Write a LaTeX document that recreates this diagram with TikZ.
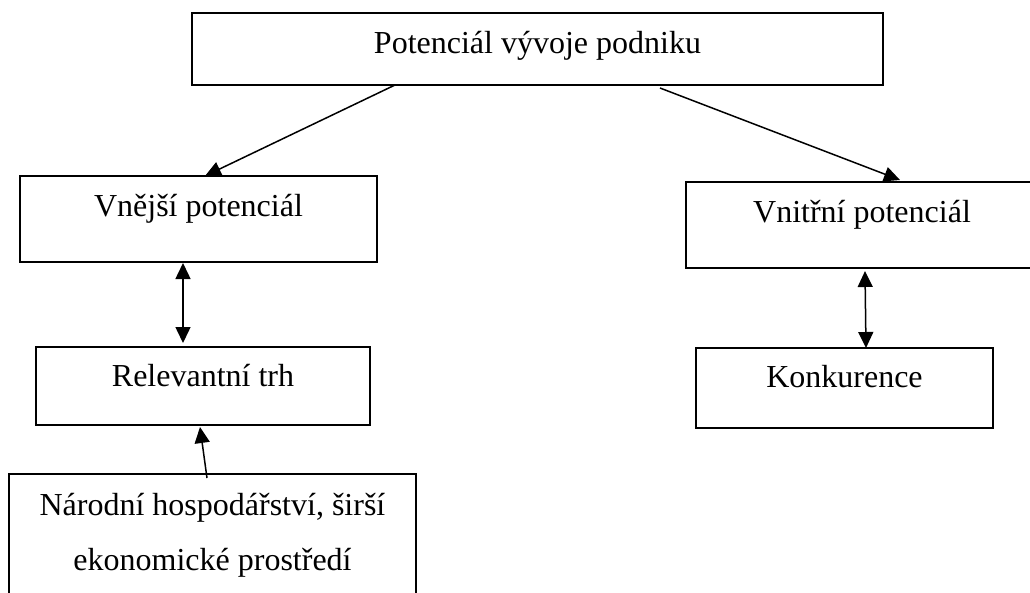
\documentclass[tikz,border=0pt]{standalone}
\usepackage{fontspec}
\setmainfont{Liberation Serif}
\usepackage{tikz}
\usetikzlibrary{arrows.meta}

\begin{document}
\begin{tikzpicture}[
    x=1pt, y=-1pt,
    blk/.style={draw, line width=1.4pt, inner sep=0pt, outer sep=0pt, anchor=north west, font=\fontsize{32}{55}\selectfont},
    arr/.style={line width=1.5pt, -{Triangle[length=16pt, width=15pt]}},
    dbl/.style={line width=1.5pt, {Triangle[length=16pt, width=15pt]}-{Triangle[length=16pt, width=15pt]}}
  ]

  \useasboundingbox (0,0) rectangle (1030,592);

  \node[blk, minimum width=691pt, text height=40pt, text depth=32pt] (top) at (192,13) {Potenciál vývoje podniku};

  \node[blk, minimum width=357pt, text height=40pt, text depth=46pt] (ext) at (20,176) {Vnější potenciál};
  \node[blk, minimum width=352pt, text height=40pt, text depth=46pt] (int) at (686,182) {Vnitřní potenciál};

  \node[blk, minimum width=334pt, text height=39pt, text depth=39pt] (rel) at (36,347) {Relevantní trh};
  \node[blk, minimum width=297pt, text height=39pt, text depth=41pt] (kon) at (696,348) {Konkurence};

  \node[blk, minimum width=407pt, align=center, text height=96pt, text depth=50pt] (nar) at (9,474) {Národní hospodářství, širší\\ekonomické prostředí};

  \draw[arr] ([xshift=203pt]top.south west) -- ([xshift=185pt]ext.north west);
  \draw[arr] ([xshift=468pt, yshift=-3pt]top.south west) -- ([xshift=214pt, yshift=2pt]int.north west);

  \draw[dbl] ([xshift=163pt, yshift=-1pt]ext.south west) -- ([xshift=147pt, yshift=4pt]rel.north west);
  \draw[dbl] ([xshift=179pt, yshift=-3pt]int.south west) -- ([xshift=170pt]kon.north west);

  \draw[arr] ([xshift=198pt, yshift=-4pt]nar.north west) -- ([xshift=164pt, yshift=-2pt]rel.south west);

\end{tikzpicture}
\end{document}
